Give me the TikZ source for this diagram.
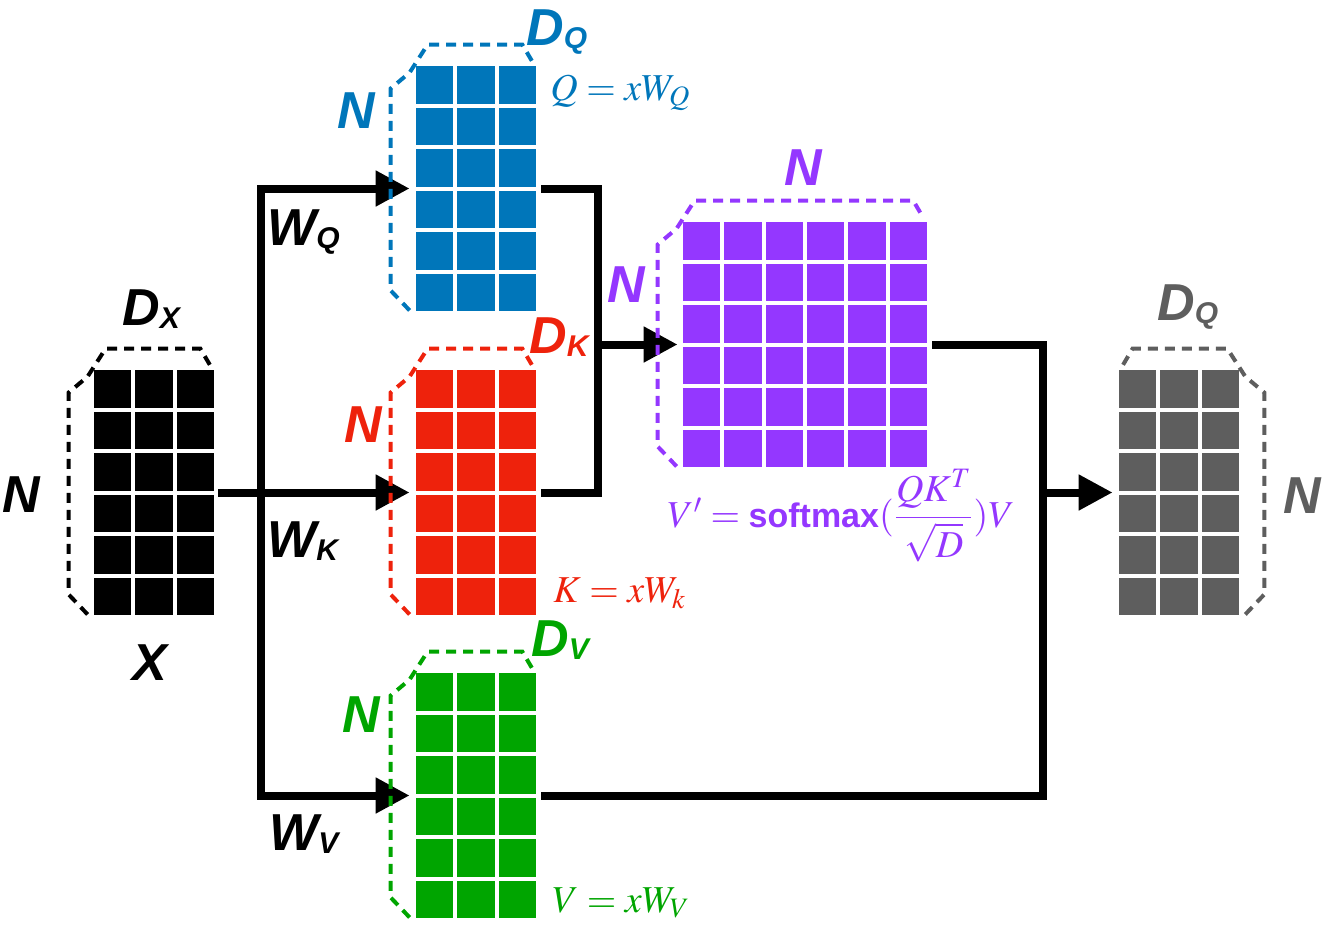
\RequirePackage{fix-cm}
\documentclass[tikz,border=0pt]{standalone}
\usepackage{mathptmx}
\usepackage{fontspec}
\usepackage{xcolor}
\usepackage{tikz}
\usetikzlibrary{arrows.meta}

\newfontfamily\lblfont{Liberation Sans}

\definecolor{qblue}{HTML}{0076BA}
\definecolor{kred}{HTML}{EE220C}
\definecolor{vgreen}{HTML}{00A500}
\definecolor{spurple}{HTML}{9437FF}
\definecolor{ogray}{HTML}{5E5E5E}

% blocco di celle: nome, colore, colonne, x sinistra, y alto
\newcommand{\cellblock}[5]{%
  \foreach \ci in {1,...,#3}
    \foreach \ri in {1,...,6}
      \fill[#2] ({#4+(\ci-1)*41.3},{#5+(\ri-1)*41.5}) rectangle ++(37.3,37.5);
  \node[inner sep=0, minimum width={(#3*41.3-4)*0.5pt}, minimum height=122.5pt]
    (#1) at ({#4+(#3*41.3-4)/2},{#5+122.5}) {};
}
% parentesi tratteggiate
\newcommand{\brkleft}[2]{%
  \draw[brk, #2] ([shift={(-6,-1)}]#1.south west) -- ([shift={(-25,-21)}]#1.south west)
    -- ([shift={(-25,23)}]#1.north west) -- ([shift={(-6,7)}]#1.north west)
    -- ([shift={(12,-21)}]#1.north west) -- ([shift={(-14,-21)}]#1.north east)
    -- ([shift={(-4,-4)}]#1.north east);
}
\newcommand{\brkright}[2]{%
  \draw[brk, #2] ([shift={(6,-1)}]#1.south east) -- ([shift={(25,-21)}]#1.south east)
    -- ([shift={(25,23)}]#1.north east) -- ([shift={(6,7)}]#1.north east)
    -- ([shift={(-12,-21)}]#1.north east) -- ([shift={(14,-21)}]#1.north west)
    -- ([shift={(4,-4)}]#1.north west);
}
\newcommand{\lsub}[2]{#1\raisebox{-1.5pt}{\fontsize{15}{15}\selectfont #2}}

\begin{document}
\begin{tikzpicture}[
      x=0.5pt, y=-0.5pt,
      line/.style={line width=4pt},
      conn/.style={line width=4pt, -{Triangle[length=17pt,width=17pt]}},
      brk/.style={line width=2pt, dash pattern=on 5pt off 3.5pt},
      lbl/.style={font=\lblfont\bfseries\itshape\fontsize{26}{28}\selectfont, inner sep=0, anchor=base west},
      eq/.style={font=\fontsize{19}{22}\selectfont, inner sep=0, anchor=base west}
    ]
    \useasboundingbox (0,0) rectangle (1329,927);

    % Matrici
    \cellblock{X}{black}{3}{94}{370}
    \cellblock{Q}{qblue}{3}{416}{66}
    \cellblock{K}{kred}{3}{416}{370}
    \cellblock{V}{vgreen}{3}{416}{673}
    \cellblock{S}{spurple}{6}{683}{222}
    \cellblock{O}{ogray}{3}{1119}{370}

    % Collegamenti
    \coordinate (trunk) at (261,492.5);
    \coordinate (qk) at (598,344.5);
    \coordinate (sv) at (1043,492.5);
    \draw[conn, shorten <=2pt, shorten >=3pt] (X.east) -- (K.west);
    \draw[conn, shorten >=3pt] (trunk) |- (Q.west);
    \draw[conn, shorten >=3pt] (trunk) |- (V.west);
    \draw[line, shorten <=2.5pt] (Q.east) -| (qk);
    \draw[line, shorten <=2.5pt] (K.east) -| (qk);
    \draw[conn, shorten >=2.5pt] (qk) -- (S.west);
    \draw[line, shorten <=2.5pt] (S.east) -| (sv);
    \draw[line, shorten <=2.5pt] (V.east) -| (sv);
    \draw[conn, shorten >=3pt] (sv) -- (O.west);

    % Parentesi
    \brkleft{X}{black}
    \brkleft{Q}{qblue}
    \brkleft{K}{kred}
    \brkleft{V}{vgreen}
    \brkleft{S}{spurple}
    \brkright{O}{ogray}

    % Etichette
    \node[lbl] (nX) at (2,512) {N};
    \node[lbl] (dX) at (122,325) {\lsub{D}{X}};
    \node[lbl] (tX) at (132,680) {X};
    \node[lbl, qblue] (nQ) at (337,128) {N};
    \node[lbl, qblue] (dQ) at (526,45) {\lsub{D}{Q}};
    \node[lbl] (wQ) at (267,245) {\lsub{W}{Q}};
    \node[lbl, kred] (nK) at (344,442) {N};
    \node[lbl, kred] (dK) at (529,353) {\lsub{D}{K}};
    \node[lbl] (wK) at (267,557) {\lsub{W}{K}};
    \node[lbl, vgreen] (nV) at (342,732) {N};
    \node[lbl, vgreen] (dV) at (531,656) {\lsub{D}{V}};
    \node[lbl] (wV) at (269,850) {\lsub{W}{V}};
    \node[lbl, spurple] (nSl) at (607,302) {N};
    \node[lbl, spurple] (nSt) at (784,185) {N};
    \node[lbl, ogray] (dO) at (1157,320) {\lsub{D}{Q}};
    \node[lbl, ogray] (nO) at (1283,513) {N};

    % Formule
    \node[eq, qblue] (eqQ) at (550,100) {$Q = xW_Q$};
    \node[eq, kred] (eqK) at (553,602) {$K = xW_k$};
    \node[eq, vgreen] (eqV) at (552,912) {$V = xW_V$};
    \node[eq, spurple] (eqS) at (667,527) {$V' = \mbox{\lblfont\bfseries\fontsize{17}{20}\selectfont softmax}({\displaystyle\frac{QK^T}{\sqrt{D}}})V$};
  \end{tikzpicture}
\end{document}
